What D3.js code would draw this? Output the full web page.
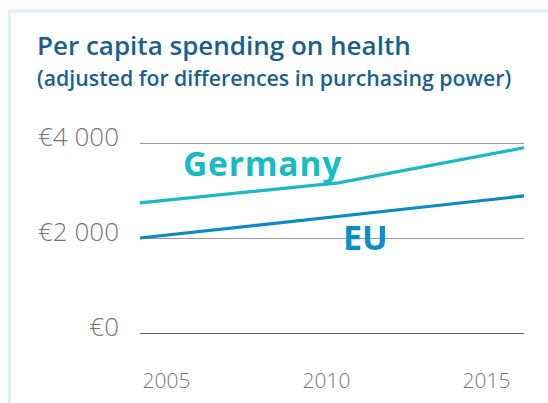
<!DOCTYPE html>
<html>
<head>
<meta charset="utf-8">
<script src="https://cdn.jsdelivr.net/npm/d3@7"></script>
<style>
  html, body { margin: 0; padding: 0; background: #fff; }
  svg { display: block; }
</style>
</head>
<body>
<svg width="548" height="403"></svg>
<script>
  // data (years are fractional where the lines start/end)
  var germanyYears = [2004.2, 2010.4, 2016.2]
  var germanyValues = [2740, 3160, 3900]
  var euYears = [2004.2, 2016.2]
  var euValues = [2000, 2885]
  var yTicks = [0, 2000, 4000]
  var xTicks = [2005, 2010, 2015]

  var svg = d3.select('svg')

  // light blue frame
  svg.append('rect')
    .attr('x', 9.5).attr('y', 11)
    .attr('width', 700).attr('height', 600)
    .attr('fill', 'none')
    .attr('stroke', '#dcf0fb')
    .attr('stroke-width', 3)

  svg.append('text')
    .attr('x', 37).attr('y', 55)
    .attr('font-family', 'Open Sans')
    .attr('font-weight', 600)
    .attr('font-size', 26)
    .attr('fill', '#1b5f8c')
    .text('Per capita spending on health')

  svg.append('text')
    .attr('x', 37).attr('y', 86)
    .attr('font-family', 'Open Sans')
    .attr('font-weight', 600)
    .attr('font-size', 21.3)
    .attr('fill', '#1b5f8c')
    .text('(adjusted for differences in purchasing power)')

  var x = d3.scaleLinear().domain([2004.2, 2016.2]).range([140, 524])
  var y = d3.scaleLinear().domain([0, 4000]).range([333, 143])

  var fmt = function (v) {
    return '€' + d3.format(',')(v).replace(/,/g, ' ')
  }

  // gridlines
  svg.append('g')
    .selectAll('line')
    .data(yTicks)
    .enter().append('line')
    .attr('x1', x.range()[0]).attr('x2', x.range()[1])
    .attr('y1', function (d) { return Math.round(y(d)) + 0.5 })
    .attr('y2', function (d) { return Math.round(y(d)) + 0.5 })
    .attr('stroke', function (d) { return d === 0 ? '#666' : '#9a9a9a' })
    .attr('stroke-width', 1.2)

  svg.append('g')
    .selectAll('text')
    .data(yTicks)
    .enter().append('text')
    .attr('x', 119)
    .attr('y', function (d) { return y(d) + 3 })
    .attr('text-anchor', 'end')
    .attr('font-family', 'Open Sans')
    .attr('font-weight', 300)
    .attr('font-size', 26)
    .attr('fill', '#777')
    .text(fmt)

  svg.append('g')
    .selectAll('text')
    .data(xTicks)
    .enter().append('text')
    .attr('x', function (d) { return x(d) + 1 })
    .attr('y', 388)
    .attr('text-anchor', 'middle')
    .attr('font-family', 'Open Sans')
    .attr('font-weight', 300)
    .attr('font-size', 21)
    .attr('fill', '#777')
    .text(function (d) { return d })

  var line = d3.line()
    .x(function (d) { return x(d[0]) })
    .y(function (d) { return y(d[1]) })

  svg.append('path')
    .datum(d3.zip(germanyYears, germanyValues))
    .attr('d', line)
    .attr('fill', 'none')
    .attr('stroke', '#19bac1')
    .attr('stroke-width', 3.2)

  svg.append('path')
    .datum(d3.zip(euYears, euValues))
    .attr('d', line)
    .attr('fill', 'none')
    .attr('stroke', '#0a8bc6')
    .attr('stroke-width', 3.2)

  svg.append('text')
    .attr('x', 183).attr('y', 176)
    .attr('font-family', 'Open Sans')
    .attr('font-weight', 700)
    .attr('font-size', 33.5)
    .attr('letter-spacing', 0.8)
    .attr('fill', '#17bcc3')
    .text('Germany')

  svg.append('text')
    .attr('x', 343).attr('y', 250)
    .attr('font-family', 'Open Sans')
    .attr('font-weight', 700)
    .attr('font-size', 34)
    .attr('fill', '#0a8dc8')
    .text('EU')
</script>
</body>
</html>
